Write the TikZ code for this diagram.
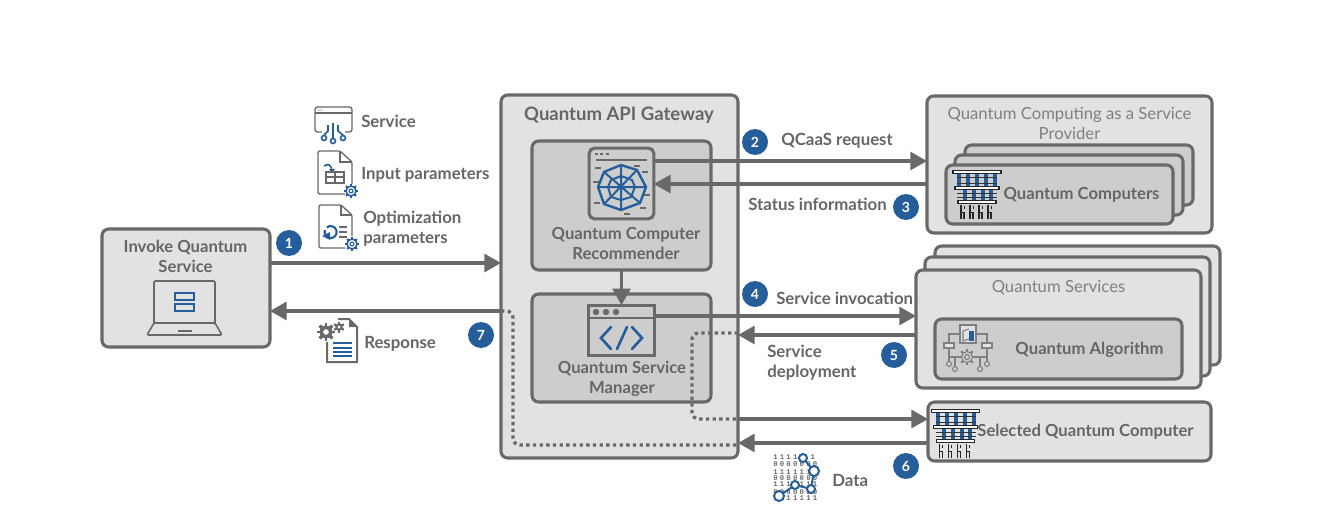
\documentclass[tikz,border=0pt]{standalone}
\usepackage{fontspec}
\setmainfont{Lato}
\newfontfamily\digitfont{Liberation Mono}[LetterSpace=30]
\usetikzlibrary{arrows.meta}
\definecolor{linegray}{HTML}{696969}
\definecolor{textgray}{HTML}{666666}
\definecolor{panelgray}{HTML}{E2E2E2}
\definecolor{innergray}{HTML}{CDCDCD}
\definecolor{iconblue}{HTML}{255E9A}
\tikzset{
  panel/.style n args={3}{draw=linegray,line width=2.3pt,rounded corners=5pt,fill=#1,
    minimum width=#2*.75pt,minimum height=#3*.75pt,outer sep=0pt,inner sep=0pt},
  title/.style={text=textgray,yshift=-.75pt,font=\bfseries\fontsize{12.5pt}{15pt}\selectfont,align=center},
  plain/.style={text=linegray!85,yshift=-.75pt,font=\fontsize{12.5pt}{15pt}\selectfont,align=center},
  label/.style={text=textgray,yshift=-.75pt,inner sep=0pt,font=\bfseries\fontsize{12.6pt}{15pt}\selectfont,align=left},
  badge/.style={circle,fill=iconblue,text=white,minimum size=19.5pt,inner sep=0pt,
    font=\bfseries\fontsize{10.5pt}{12pt}\selectfont},
  flow/.style={draw=linegray,line width=2.3pt,-{Triangle[length=12.5pt,width=13.5pt]}},
  dots/.style={draw=linegray,line width=2.5pt,dash pattern=on 2.5pt off 2.5pt,rounded corners=5pt},
  ink/.style={draw=linegray,line width=1pt},
  blueink/.style={draw=iconblue,line width=1.2pt},
  algoink/.style={draw=linegray!85,line width=.8pt},
  gearicon/.pic={
    \foreach \a in {0,45,...,315} \draw[blueink,line width=1.5pt,rotate=\a] (0,4) -- (0,7);
    \draw[blueink,fill=white] (0,0) circle [radius=5];
    \draw[blueink,line width=.8pt] (0,0) circle [radius=2];
  },
  chipicon/.pic={
    \foreach \x in {-18,-9,0,9,18} \fill[iconblue] (\x-2,-21) rectangle (\x+2,-9);
    \foreach \x in {-12,-3,6,14} \fill[iconblue] (\x-2,-5) rectangle (\x+2,5);
    \foreach \y in {-18,-12,-2,2} \draw[black!80,line width=.7pt] (-20,\y) -- (20,\y);
    \draw[black!85,fill=white,line width=.8pt] (-24,-24.5) rectangle (24,-21.5);
    \draw[black!85,fill=white,line width=.8pt] (-22,-8.5) rectangle (22,-5.5);
    \draw[black!85,fill=white,line width=.8pt] (-19,5.5) rectangle (19,8.5);
    \foreach \x in {-16,-7,2,11} {
      \draw[black!85,line width=.8pt] (\x,10) -- (\x,24);
      \draw[black!85,line width=.6pt] (\x+3,11) -- (\x+3,14) (\x,17) -- (\x+3,17);
      \draw[black!85,line width=.8pt] (\x+3,17) -- (\x+3,24);
    }
  }
}
\begin{document}
\begin{tikzpicture}[x=.75pt,y=-.75pt]
\useasboundingbox (0,0) rectangle (1327,528);
% boxes
\node[panel={panelgray}{168}{118}] (invoke) at (186,288) {};
\node[panel={panelgray}{237}{363}] (gateway) at (619.5,276.5) {};
\node[panel={innergray}{179}{129}] (recommender) at (621.5,205.5) {};
\node[panel={innergray}{179}{108}] (manager) at (621.5,348) {};
\node[panel={panelgray}{285}{137}] (provider) at (1069.5,164.5) {};
\node[panel={innergray}{228}{60}] (qcback) at (1079,175) {};
\node[panel={innergray}{228}{60}] (qcmid) at (1069,185) {};
\node[panel={innergray}{227}{59}] (qcfront) at (1059.5,194.5) {};
\node[panel={panelgray}{285}{119}] (srvback) at (1077.5,305.5) {};
\node[panel={panelgray}{285}{119}] (srvmid) at (1067.5,316.5) {};
\node[panel={panelgray}{285}{118}] (srvfront) at (1058.5,329) {};
\node[panel={innergray}{247}{60}] (algorithm) at (1058.5,349) {};
\node[panel={panelgray}{283}{59}] (selected) at (1069.5,431.5) {};
\node[draw=linegray,line width=2.3pt,rounded corners=4pt,fill=innergray,minimum width=48.5pt,minimum height=53pt,inner sep=0pt,outer sep=0pt] (recicon) at (621.5,183.5) {};
\node[draw=linegray,line width=2.3pt,fill=innergray,minimum width=50pt,minimum height=38pt,inner sep=0pt,outer sep=0pt] (manicon) at (621.5,330.5) {};
% titles
\node[title] (invoketext) at (185.5,255) {Invoke Quantum\\Service};
\node[title,font=\bfseries\fontsize{13.9pt}{15pt}\selectfont] (gatewaytext) at (619,114) {Quantum API Gateway};
\node[title] (rectext) at (626,242) {Quantum Computer\\Recommender};
\node[title] (mantext) at (622,378) {Quantum Service\\Manager};
\node[plain] (providertext) at (1069.5,122.5) {Quantum Computing as a Service\\Provider};
\node[title] (qctext) at (1081.5,194) {Quantum Computers};
\node[plain] (srvtext) at (1058.5,287) {Quantum Services};
\node[title] (algotext) at (1089.5,349) {Quantum Algorithm};
\node[title] (seltext) at (1085.5,431) {Selected Quantum Computer};
% connectors
\coordinate (dotgate) at (513,311);
\coordinate (dotlow) at (513,445);
\coordinate (dotup) at (692,333);
\coordinate (dotdown) at (692,419);
\draw[flow] (invoke.east |- 0,263) -- (gateway.west |- 0,263);
\draw[flow] (gateway.west |- 0,311) -- (invoke.east |- 0,311);
\draw[flow] (recicon.east |- 0,161) -- (provider.west |- 0,161);
\draw[flow] (provider.west |- 0,184) -- (recicon.east |- 0,184);
\draw[flow] (recommender.south) -- (manicon.north);
\draw[flow] (manicon.east |- 0,316) -- (srvfront.west |- 0,316);
\draw[flow] (srvfront.west |- 0,335) -- (gateway.east |- 0,335);
\draw[flow] (gateway.east |- 0,419) -- (selected.west |- 0,419);
\draw[flow] (selected.west |- 0,443) -- (gateway.east |- 0,443);
\draw[dots] (gateway.west |- dotgate) -- (dotgate) -- (dotlow) -- (gateway.east |- dotlow);
\draw[dots] (gateway.east |- dotup) -- (dotup) -- (dotdown) -- (gateway.east |- dotdown);
% badges and labels
\node[badge] (b1) at (289,243) {1};
\node[badge] (b2) at (755,142) {2};
\node[badge] (b3) at (906,207) {3};
\node[badge] (b4) at (755,294) {4};
\node[badge] (b5) at (894,355) {5};
\node[badge] (b6) at (906,466) {6};
\node[badge] (b7) at (481,335) {7};
\node[label,anchor=west] (lservice) at (361,120) {Service};
\node[label,anchor=west] (linput) at (361,174) {Input parameters};
\node[label,anchor=west] (lopt) at (363,228) {Optimization\\parameters};
\node[label,anchor=west] (lresp) at (364,343) {Response};
\node[label,anchor=west] (lqcaas) at (781,140) {QCaaS request};
\node[label,anchor=west] (lstatus) at (748,203) {Status information};
\node[label,anchor=west] (linvoc) at (776,297) {Service invocation};
\node[label,anchor=west] (ldeploy) at (767,362) {Service\\deployment};
\node[label,anchor=west] (ldata) at (832,479) {Data};
% laptop
\draw[ink,line width=1.2pt,rounded corners=1pt] (154,323) -- (154,281) -- (215,281) -- (215,323);
\draw[ink,line width=1.2pt,rounded corners=1pt] (154,323) -- (215,323) -- (222,335) -- (147,335) -- cycle;
\draw[ink,line width=1.2pt] (178,331) -- (192,331);
\draw[blueink] (175,293) rectangle (194,300);
\draw[blueink] (175,304) rectangle (194,311);
% service icon
\draw[ink,rounded corners=2pt] (322,132) -- (315,132) -- (315,107) -- (352,107) -- (352,132) -- (345,132);
\draw[ink] (315,113) -- (352,113);
\foreach \x in {318,320,322} \fill[linegray] (\x,110) circle [radius=.7];
\draw[blueink] (333,123) -- (333,138);
\draw[blueink] (333,141) circle [radius=2.5];
\draw[blueink] (328,125) -- (328,131) -- (324,135);
\draw[blueink] (324,138) circle [radius=2.5];
\draw[blueink] (338,125) -- (338,131) -- (343,135);
\draw[blueink] (343,138) circle [radius=2.5];
% input parameters icon
\draw[ink,rounded corners=1pt] (345,194) -- (318,194) -- (318,151) -- (340,151) -- (352,162) -- (352,184);
\draw[ink] (340,151) -- (340,162) -- (352,162);
\draw[blueink] (324,166) .. controls (328,163) and (331,165) .. (332,170);
\fill[iconblue] (329,169) -- (335,169) -- (332,173) -- cycle;
\draw[ink] (326,172) rectangle (344,183);
\draw[ink] (326,177) -- (344,177);
\draw[ink] (335,172) -- (335,183);
\pic at (351,191) {gearicon};
% optimization parameters icon
\draw[ink,rounded corners=1pt] (345,248) -- (319,248) -- (319,205) -- (341,205) -- (352,215) -- (352,236);
\draw[ink] (341,205) -- (341,215) -- (352,215);
\draw[blueink,line width=1.6pt] (325,230) arc (200:-130:6);
\fill[iconblue] (322,236) -- (330,232) -- (330,240) -- cycle;
\foreach \y in {227,232,237} \draw[ink,line width=.8pt] (339,\y) -- (347,\y);
\pic at (352,244) {gearicon};
% response icon
\draw[linegray,line width=1.5pt] (338,319) -- (349,319) -- (357,327) -- (357,362) -- (327,362) -- (327,342);
\fill[linegray] (349,319) -- (357,327) -- (349,327) -- cycle;
\foreach \a in {0,45,...,315} \draw[linegray,line width=2.2pt,rotate around={\a:(326,332)}] (326,323) -- (326,341);
\fill[linegray] (326,332) circle [radius=6.5];
\fill[white] (326,332) circle [radius=2.8];
\foreach \a in {0,60,...,300} \draw[linegray,line width=1.4pt,rotate around={\a:(339,327)}] (339,321.5) -- (339,332.5);
\fill[linegray] (339,327) circle [radius=3.8];
\fill[white] (339,327) circle [radius=1.6];
\foreach \y in {343,348,352,356} \draw[iconblue,line width=1.4pt] (333,\y) -- (352,\y);
% recommender icon
\foreach \x in {596,601,607} \fill[linegray] (\x-1.5,152.5) rectangle (\x+1.5,155);
\draw[linegray,line width=2pt] (596,160) -- (647,160);
\foreach \x/\y in {598/168,637/166,645/172,596/182,647/195,597/203,643/208,627/214} \fill[linegray] (\x-3,\y-1.2) rectangle (\x+3,\y+1.2);
\draw[blueink,line width=1.8pt,line join=round] (621,165) -- (637,170) -- (646,187) -- (640,203) -- (621,210) -- (604,204) -- (598,187) -- (604,172) -- cycle;
\draw[blueink,line width=1.5pt] (621,165) -- (621,210) (598,187) -- (646,187) (604,172) -- (640,203) (637,170) -- (604,204);
\draw[blueink,line width=1.5pt,line join=round] (621,176) -- (632,180) -- (635,187) -- (631,197) -- (621,200) -- (611,197) -- (608,187) -- (611,180) -- cycle;
% manager icon
\draw[linegray,line width=2pt] (manicon.west |- 0,318) -- (manicon.east |- 0,318);
\foreach \x in {596,606,616} \fill[linegray] (\x,312) circle [radius=3.2];
\draw[iconblue,line width=2pt,line cap=round] (611,327) -- (601,338) -- (611,349);
\draw[iconblue,line width=2pt,line cap=round] (632,327) -- (642,338) -- (632,349);
\draw[iconblue,line width=2pt,line cap=round] (627,327) -- (617,349);
% quantum computers
\pic at (977,195) {chipicon};
\pic at (955.5,434) {chipicon};
% algorithm icon
\draw[algoink,fill=panelgray] (960,325) rectangle (976,343);
\fill[iconblue] (969,331) rectangle (974,341);
\draw[algoink] (969,329) -- (963,331) -- (963,341) -- (969,339);
\draw[algoink] (960,334) -- (949,334) -- (949,342);
\draw[algoink] (976,334) -- (987,334) -- (987,342);
\draw[algoink,fill=panelgray] (944,343) rectangle (954,348);
\draw[algoink,fill=panelgray] (982,343) rectangle (992,348);
\draw[algoink] (949,348) -- (949,362) (987,348) -- (987,362);
\draw[algoink] (949,357) -- (987,357);
\draw[algoink] (955,357) -- (955,367) (980,357) -- (980,367);
\foreach \x/\y in {949/364,987/364,955/369,980/369} \draw[algoink] (\x,\y) circle [radius=2.5];
\foreach \a in {0,45,...,315} \draw[algoink,line width=1.4pt,rotate around={\a:(967,357)}] (967,349) -- (967,365);
\draw[algoink,fill=innergray] (967,357) circle [radius=5.5];
\draw[algoink] (967,357) circle [radius=2.5];
% data icon
\foreach \y/\s in {457/1111 11,464/0000000,472/1111111,478/0000000,484/1111111,492/0000000,498/1111111} \node[text=linegray,inner sep=0pt,anchor=west,font=\digitfont\bfseries\fontsize{5.5pt}{6pt}\selectfont] at (773,\y) {\s};
\draw[iconblue,line width=1.5pt] (803,458) -- (814,471) -- (811,489) -- (795,485) -- (779,496);
\foreach \x/\y/\r in {803/458/4,814/471/5,795/485/4,811/489/4,779/496/5} \draw[iconblue,line width=1.5pt,fill=white] (\x,\y) circle [radius=\r];
\end{tikzpicture}
\end{document}
